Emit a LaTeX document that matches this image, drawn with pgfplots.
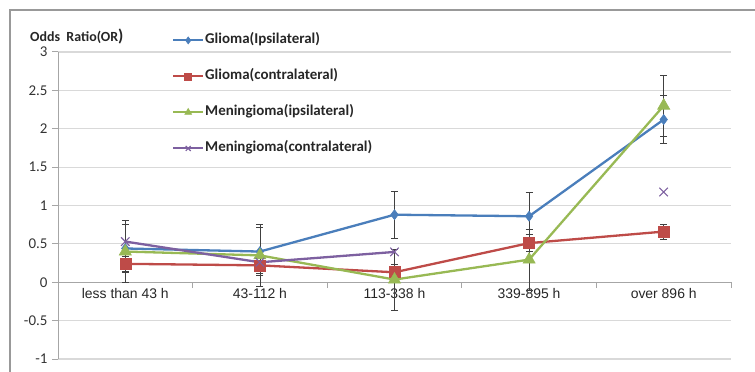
\documentclass[border=0pt]{standalone}
\usepackage{pgfplots}
\pgfplotsset{compat=1.18}
\usepackage{fontspec}
\setmainfont{Carlito}
\newfontfamily\arialfont{Liberation Sans}
\definecolor{cblue}{HTML}{4A7EBB}
\definecolor{cred}{HTML}{BE4B48}
\definecolor{cgreen}{HTML}{98B954}
\definecolor{cpurple}{HTML}{7D60A0}
\definecolor{axgray}{HTML}{A6A6A6}
\definecolor{gridgray}{HTML}{D9D9D9}
\definecolor{errgray}{HTML}{404040}
\begin{document}
\begin{tikzpicture}
\path[use as bounding box] (-58bp,-13bp) rectangle (697bp,359bp);
\begin{axis}[
  at={(0,0)}, anchor=south west,
  scale only axis, width=673bp, height=307bp,
  xmin=-0.5, xmax=4.5, ymin=-1, ymax=3,
  axis y line=left, axis x line=middle,
  axis line style={-, draw=axgray, line width=1bp},
  hide obscured x ticks=false, hide obscured y ticks=false,
  ytick={-1,-0.5,0,0.5,1,1.5,2,2.5,3},
  ymajorgrids, grid style={gridgray, line width=1.2bp},
  ytick align=outside, major tick length=6bp,
  major y tick style={draw=axgray, line width=1bp},
  yticklabel style={font=\fontsize{15}{15}\selectfont, text=black!80, /pgf/number format/fixed, xshift=-1bp},
  /pgf/number format/assume math mode=true,
  xtick={0,1,2,3,4},
  xticklabels={less than 43 h, 43-112 h, 113-338 h, 339-895 h, over 896 h},
  major x tick style={draw=none},
  xticklabel style={font=\arialfont\fontsize{14}{14}\selectfont, text=black!85},
  extra x ticks={0.5,1.5,2.5,3.5,4.5},
  extra x tick labels={},
  extra x tick style={xtick align=outside, major tick length=6bp, major x tick style={draw=axgray, line width=1bp}},
  unbounded coords=jump,
  clip=false,
  legend style={at={(0.1694,1.066)}, anchor=north west, draw=none, fill=none, inner sep=0pt, row sep=19bp,
    font=\bfseries\fontsize{15}{15}\selectfont, text=black!85,
    nodes={inner sep=1bp, text height=11bp, text depth=4bp}, cells={anchor=west}},
  legend image code/.code={\draw[mark repeat=2, mark phase=2, #1, line width=2bp] plot coordinates {(0bp,0bp) (15bp,0bp) (30bp,0bp)};},
  every axis plot/.append style={line width=2.3bp},
  error bars/error bar style={line width=0.7bp, errgray, solid},
  error bars/error mark options={rotate=90, mark size=3.5bp, line width=0.7bp, errgray},
]
\addplot[cblue, mark=diamond*, mark size=5bp, mark options={solid, line width=0.6bp, fill=cblue},
  legend image post style={mark size=3.5bp},
  error bars/.cd, y dir=both, y explicit]
  coordinates {(0,0.44) +- (0,0.31) (1,0.40) +- (0,0.31) (2,0.88) +- (0,0.31) (3,0.86) +- (0,0.31) (4,2.12) +- (0,0.31)};
\addlegendentry{Glioma(Ipsilateral)}
\addplot[cred, mark=square*, mark size=5.5bp, mark options={solid, line width=0.6bp, fill=cred},
  legend image post style={mark size=3.5bp},
  error bars/.cd, y dir=both, y explicit]
  coordinates {(0,0.24) +- (0,0.10) (1,0.22) +- (0,0.10) (2,0.13) +- (0,0.10) (3,0.51) +- (0,0.11) (4,0.66) +- (0,0.10)};
\addlegendentry{Glioma(contralateral)}
\addplot[cgreen, mark=triangle*, mark size=7bp, mark options={solid, line width=0.6bp, fill=cgreen},
  legend image post style={mark size=4bp},
  error bars/.cd, y dir=both, y explicit]
  coordinates {(0,0.40) +- (0,0.40) (1,0.35) +- (0,0.40) (2,0.035) +- (0,0.40) (3,0.295) +- (0,0.40) (4,2.30) +- (0,0.40)};
\addlegendentry{Meningioma(ipsilateral)}
\addplot[cpurple, mark=x, mark size=6bp, mark options={solid, line width=1.1bp},
  legend image post style={mark size=3.5bp}]
  coordinates {(0,0.53) (1,0.26) (2,0.395) (3,nan) (4,1.176)};
\addlegendentry{Meningioma(contralateral)}
\end{axis}
\node[anchor=west, inner sep=0pt, font=\bfseries\fontsize{14}{14}\selectfont, text=black!85] at (-28bp,322bp) {Odds~~Ratio(OR{\fontsize{17}{17}\selectfont)}};
\draw[gray!80, line width=1.2bp] (-48bp,-13bp) -- (-48bp,349bp) -- (697bp,349bp);
\end{tikzpicture}
\end{document}
